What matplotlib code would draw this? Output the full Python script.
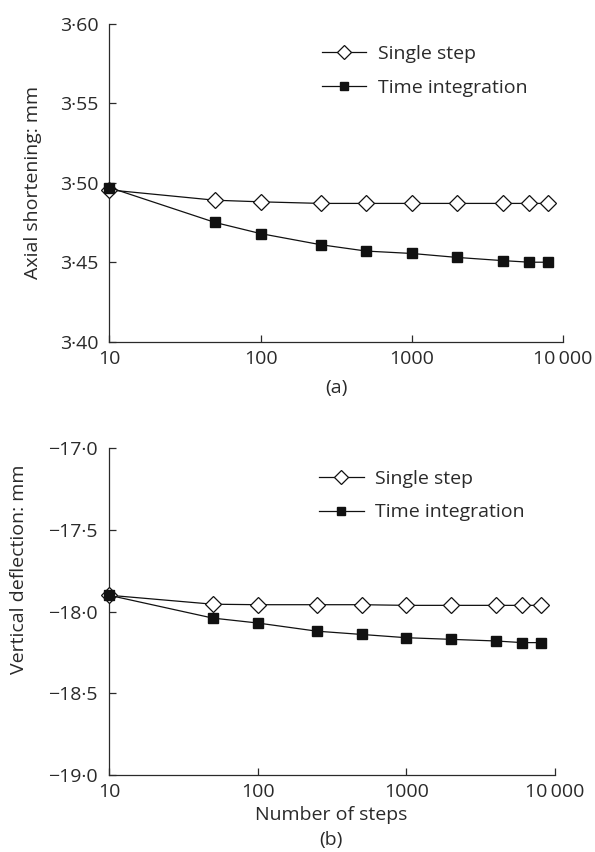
import matplotlib.pyplot as plt
from matplotlib.ticker import FixedLocator, FixedFormatter

plt.rcParams['font.family'] = ['Open Sans', 'DejaVu Sans']

# number of steps (shared by both panels)
steps = [10, 50, 100, 250, 500, 1000, 2000, 4000, 6000, 8000]

# (a) axial shortening, mm
axial_single = [3.4955, 3.489, 3.488, 3.487, 3.487, 3.487, 3.487, 3.487, 3.487, 3.487]
axial_time = [3.497, 3.475, 3.468, 3.461, 3.457, 3.4555, 3.453, 3.451, 3.450, 3.450]

# (b) vertical deflection, mm
vert_single = [-17.90, -17.955, -17.958, -17.958, -17.958, -17.962, -17.962, -17.962, -17.962, -17.962]
vert_time = [-17.90, -18.04, -18.07, -18.12, -18.14, -18.16, -18.17, -18.18, -18.19, -18.19]

x_ticks = [10, 100, 1000, 10000]
x_labels = ['10', '100', '1000', '10\u2009000']
a_ticks = [3.40, 3.45, 3.50, 3.55, 3.60]
a_labels = ['3·40', '3·45', '3·50', '3·55', '3·60']
b_ticks = [-19.0, -18.5, -18.0, -17.5, -17.0]
b_labels = ['\u221219·0', '\u221218·5', '\u221218·0', '\u221217·5', '\u221217·0']

FS = 14
INK = '#2a2a2a'

fig = plt.figure(figsize=(5.95, 8.52), dpi=100)
ax_a = fig.add_axes([0.184, 0.599, 0.762, 0.373])
ax_b = fig.add_axes([0.183, 0.0904, 0.750, 0.3836])


def style_axis(ax, yt, yl, ylim):
    ax.set_xscale('log')
    ax.set_xlim(10, 10000)
    ax.set_ylim(*ylim)
    ax.xaxis.set_major_locator(FixedLocator(x_ticks))
    ax.xaxis.set_major_formatter(FixedFormatter(x_labels))
    ax.xaxis.set_minor_locator(FixedLocator([]))
    ax.yaxis.set_major_locator(FixedLocator(yt))
    ax.yaxis.set_major_formatter(FixedFormatter(yl))
    for s in ['top', 'right']:
        ax.spines[s].set_visible(False)
    for s in ['left', 'bottom']:
        ax.spines[s].set_linewidth(0.9)
        ax.spines[s].set_color(INK)
    ax.tick_params(direction='in', length=5, width=0.9, labelsize=FS,
                   colors=INK)
    ax.tick_params(axis='y', pad=8)
    ax.tick_params(axis='x', pad=6)


def draw(ax, single, timei, legend_xy):
    ax.plot(steps, single, color='#111111', lw=0.9, marker='D', markersize=8,
            markerfacecolor='white', markeredgecolor='#111111', markeredgewidth=0.9,
            label='Single step', clip_on=False, zorder=3)
    ax.plot(steps, timei, color='#111111', lw=0.9, marker='s', markersize=7,
            markerfacecolor='#111111', markeredgecolor='#111111',
            label='Time integration', clip_on=False, zorder=4)
    leg = ax.legend(loc='center left', bbox_to_anchor=legend_xy, frameon=False,
                    fontsize=FS, handlelength=2.3, labelspacing=0.8,
                    handletextpad=0.6, borderpad=0, borderaxespad=0,
                    markerscale=0.9)
    for t in leg.get_texts():
        t.set_color(INK)


draw(ax_a, axial_single, axial_time, (0.468, 0.852))
style_axis(ax_a, a_ticks, a_labels, (3.40, 3.60))
ax_a.set_ylabel('Axial shortening: mm', fontsize=FS, color=INK)
ax_a.yaxis.set_label_coords(-0.149, 0.5)
fig.text(0.565, 0.5446, '(a)', ha='center', va='center', fontsize=FS, color=INK)

draw(ax_b, vert_single, vert_time, (0.471, 0.855))
style_axis(ax_b, b_ticks, b_labels, (-19.0, -17.0))
ax_b.set_ylabel('Vertical deflection: mm', fontsize=FS, color=INK)
ax_b.yaxis.set_label_coords(-0.181, 0.63)
fig.text(0.557, 0.0434, 'Number of steps', ha='center', va='center', fontsize=FS, color=INK)
fig.text(0.557, 0.014, '(b)', ha='center', va='center', fontsize=FS, color=INK)

fig.savefig('out.png', dpi=100)
